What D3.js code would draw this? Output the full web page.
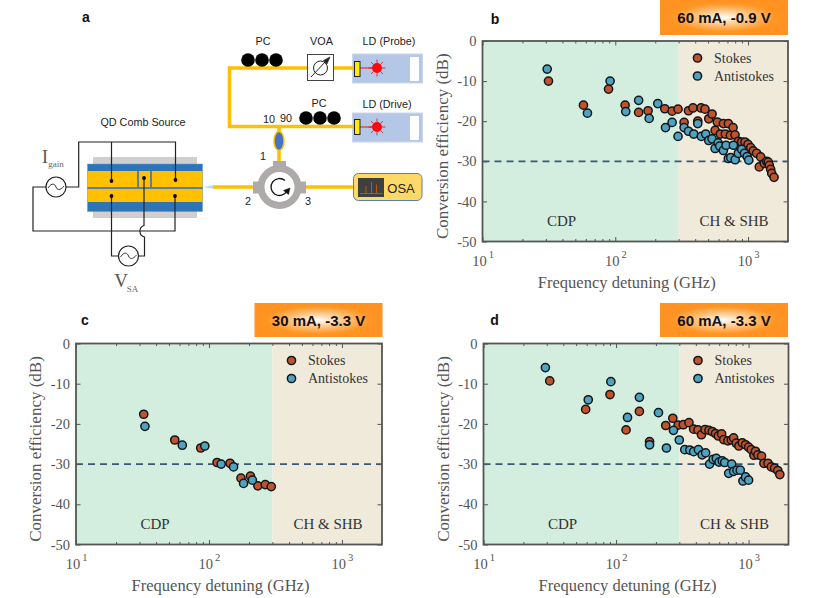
<!DOCTYPE html>
<html><head><meta charset="utf-8">
<script src="https://cdn.jsdelivr.net/npm/d3@7"></script>
<style>html,body{margin:0;padding:0;background:#fff}svg{display:block}</style>
</head><body><svg id="c" width="831" height="598"></svg>
<script>
// ---- data ----
const bStokesF=[31.4,57.6,89,118.6,150,176.6,236,268,297,330,356,385,418,443,474,506,536,565,587,619,652,675,711,736,771,798,845,896,949,1000,1047,1096,1161,1245,1216,1327,1382,1420,1447,1480,1507,1570];
const bStokesD=[-10,-16,-12,-16,-17.8,-17.4,-16.9,-17.5,-17,-20.3,-17.4,-16.7,-20,-16.7,-17,-19.4,-18.2,-22.3,-20.2,-23.2,-20.6,-23.2,-20.6,-23.5,-21.6,-23.4,-25,-25.2,-25.2,-25.8,-26.6,-27.4,-28,-28.9,-31.4,-30.5,-30,-30.2,-31,-32,-33,-34];
const bAntiF=[30.7,61.7,91.4,120,150,180,209,239,268,297,330,356,390,418,445,480,506,536,565,595,612,652,683,711,741,776,800,845,896,940,985,1012];
const bAntiD=[-7,-18,-10,-17.6,-14.8,-19.3,-15.6,-21.6,-20.3,-23.8,-21.6,-22.5,-23.2,-20.6,-23.8,-23.2,-24.8,-24.4,-26.8,-25.4,-26.2,-27.3,-26,-29.3,-29.1,-26,-29.6,-28,-27,-28,-28.8,-29.7];
const cStokesF=[32.3,55.3,86.7,115,144,174,205,233,265,294];
const cStokesD=[-17.6,-24,-26,-29.6,-29.8,-33.5,-33,-35.4,-35.1,-35.6];
const cAntiF=[33,63,93,123.5,153,182,212];
const cAntiD=[-20.6,-25.3,-25.5,-30,-30.7,-34.8,-34];
const dStokesF=[31.6,59,90,119,150,179,237,268,294,322,355,385,415,441,469,502,532,563,591,626,649,698,741,771,807,845,896,949,1000,1047,1096,1127,1175,1253,1305,1400,1483,1570,1660,1720];
const dStokesD=[-9.3,-16.4,-12.7,-21.5,-16.9,-24.4,-20.4,-18.6,-20.3,-20.2,-19.7,-21.3,-21.5,-22.7,-21.4,-21.6,-21.9,-22.4,-23,-22.5,-23.9,-24.2,-24,-23.5,-24.8,-25.5,-24.7,-25.2,-25.8,-26.4,-27.8,-26.8,-27.7,-28,-29.8,-29.8,-30.7,-31,-31.6,-32.6];
const dAntiF=[29.3,61.7,91.4,122,150,179,209,240,271,300,330,360,385,418,446,474,508,540,571,598,633,660,708,745,771,817,865,906,949,1000];
const dAntiD=[-6,-14,-9.5,-18.4,-13.4,-25.2,-17.2,-26,-21.6,-24,-26.4,-26.5,-26.9,-26.4,-27.7,-27.2,-30,-28.8,-28.6,-29.5,-29.2,-29.6,-32.3,-30,-31.8,-31.5,-31.5,-34.2,-33.2,-34];
const yTicks=[0,-10,-20,-30,-40,-50];
const xMajor=[10,100,1000];
const xMinor=[20,30,40,50,60,70,80,90,200,300,400,500,600,700,800,900];
const seriesNames=["Stokes","Antistokes"];
const regionNames=["CDP","CH & SHB"];
const regionBoundary=300, xDomain=[10,2000], yDomain=[-50,0], refLevel=-30;

const RED="#C1532B",BLUE="#4FA3BF",GREY="#555",SERIF="'Liberation Serif',serif",SANS="'Liberation Sans',sans-serif",EDGE="#10161C";
const svg=d3.select("#c");
const defs=svg.append("defs");
const grad=defs.append("radialGradient").attr("id","glow");
grad.append("stop").attr("offset",0).attr("stop-color","#FFFDF8");
grad.append("stop").attr("offset",.45).attr("stop-color","#FFC078");
grad.append("stop").attr("offset",.8).attr("stop-color","#FF9624");
grad.append("stop").attr("offset",1).attr("stop-color","#FF9220");

function txt(g,x,y,s,o={}){
  return g.append("text").attr("x",x).attr("y",y).text(s)
    .attr("font-family",o.f||SANS).attr("font-size",o.s||10).attr("fill",o.c||"#222")
    .attr("font-weight",o.w||"normal").attr("text-anchor",o.a||"middle");
}

function panel(p){
  const g=svg.append("g");
  const {l,r,t,b}=p;
  const x=d3.scaleLog().domain(xDomain).range([l,r]);
  const y=d3.scaleLinear().domain(yDomain).range([b,t]);
  g.append("rect").attr("x",x(10)).attr("y",t).attr("width",x(regionBoundary)-x(10)).attr("height",b-t).attr("fill","#D3EEDE");
  g.append("rect").attr("x",x(regionBoundary)).attr("y",t).attr("width",x(2000)-x(regionBoundary)).attr("height",b-t).attr("fill","#F0EADA");
  g.append("line").attr("x1",l).attr("x2",r).attr("y1",y(refLevel)).attr("y2",y(refLevel))
    .attr("stroke","#3B5870").attr("stroke-width",1.7).attr("stroke-dasharray","7 5");
  txt(g,x(10)+79,b-16,regionNames[0],{f:SERIF,s:15,c:"#333"});
  txt(g,r-54,b-16,regionNames[1],{f:SERIF,s:15,c:"#333"});

  const axes=(ax,tx)=>{const a=g.append("g").attr("transform",`translate(${tx})`).call(ax);a.select(".domain").remove();a.selectAll("line").attr("stroke",GREY).attr("stroke-width",1);return a;};
  const bl=axes(d3.axisBottom(x).tickValues(xMajor).tickSizeInner(-4.5).tickSizeOuter(0).tickFormat(""),`0,${b}`);
  axes(d3.axisBottom(x).tickValues(xMinor).tickSizeInner(-2.5).tickSizeOuter(0).tickFormat(""),`0,${b}`);
  axes(d3.axisTop(x).tickValues(xMajor).tickSizeInner(-4.5).tickSizeOuter(0).tickFormat(""),`0,${t}`);
  axes(d3.axisTop(x).tickValues(xMinor).tickSizeInner(-2.5).tickSizeOuter(0).tickFormat(""),`0,${t}`);
  const ll=axes(d3.axisLeft(y).tickValues(yTicks).tickSizeInner(-4.5).tickSizeOuter(0).tickPadding(6).tickFormat(d=>String(d)),`${l},0`);
  ll.selectAll("text").attr("font-family",SERIF).attr("font-size",14.5).attr("fill",GREY);
  axes(d3.axisRight(y).tickValues(yTicks).tickSizeInner(-4.5).tickSizeOuter(0).tickFormat(""),`${r},0`);
  bl.selectAll(".tick text").each(function(d){
    const el=d3.select(this).attr("font-family",SERIF).attr("font-size",14.5).attr("fill",GREY).attr("y",24).attr("dy",0).attr("dx",0);
    el.append("tspan").text("10");
    el.append("tspan").text(String(Math.round(Math.log10(d)))).attr("font-size",10.5).attr("dy",-8).attr("dx",2);
  });
  g.append("rect").attr("x",l).attr("y",t).attr("width",r-l).attr("height",b-t).attr("fill","none").attr("stroke",GREY).attr("stroke-width",1.8);
  txt(g,(l+r)/2-8.5,b+46,"Frequency detuning (GHz)",{f:SERIF,s:16.5,c:GREY});
  txt(g,0,0,"Conversion efficiency (dB)",{f:SERIF,s:17,c:GREY}).attr("transform",`translate(${l-35},${(t+b)/2+5}) rotate(-90)`);

  const dot=(F,D,c)=>g.append("g").selectAll("circle").data(F).join("circle")
    .attr("cx",d=>x(d)).attr("cy",(d,i)=>y(D[i])).attr("r",4.1)
    .attr("fill",c).attr("stroke",EDGE).attr("stroke-width",1.5);
  dot(p.sF,p.sD,RED); dot(p.aF,p.aD,BLUE);

  // legend
  const lx=r-90.5;
  [[RED,t+17],[BLUE,t+35]].forEach(([c,yy],i)=>{
    g.append("circle").attr("cx",lx).attr("cy",yy).attr("r",4.1).attr("fill",c).attr("stroke",EDGE).attr("stroke-width",1.5);
    txt(g,lx+16.5,yy+4.5,seriesNames[i],{f:SERIF,s:14,c:"#333",a:"start"});
  });
  // banner
  g.append("rect").attr("x",p.bx).attr("y",p.by).attr("width",128).attr("height",p.bh).attr("fill","url(#glow)");
  txt(g,p.bx+64,p.by+p.bh/2+5.5,p.title,{s:15,w:"bold",c:"#111"});
  txt(g,p.lx,p.ly,p.letter,{s:14,w:"bold",c:"#111"});
}

panel({l:482.5,r:788,t:41,b:241.5,sF:bStokesF,sD:bStokesD,aF:bAntiF,aD:bAntiD,bx:660,by:0,bh:35,title:"60 mA, -0.9 V",letter:"b",lx:495,ly:24});
panel({l:76,r:382,t:343.5,b:544.5,sF:cStokesF,sD:cStokesD,aF:cAntiF,aD:cAntiD,bx:254.5,by:303,bh:34,title:"30 mA, -3.3 V",letter:"c",lx:85,ly:325});
panel({l:483.5,r:788.5,t:343.5,b:544.5,sF:dStokesF,sD:dStokesD,aF:dAntiF,aD:dAntiD,bx:660,by:303,bh:34,title:"60 mA, -3.3 V",letter:"d",lx:494.5,ly:325});

// ---- panel a: schematic ----
const a=svg.append("g");
const LBL=10.8;
const rect=(x,y,w,h,fill,o={})=>a.append("rect").attr("x",x).attr("y",y).attr("width",w).attr("height",h).attr("fill",fill).attr("stroke",o.s||"none").attr("stroke-width",o.w||0).attr("rx",o.r||0);
const path=(d,s,w,fill)=>a.append("path").attr("d",d).attr("stroke",s).attr("stroke-width",w).attr("fill",fill||"none");
const circ=(x,y,r,fill,s,w)=>a.append("circle").attr("cx",x).attr("cy",y).attr("r",r).attr("fill",fill).attr("stroke",s||"none").attr("stroke-width",w||0);
txt(a,86,22,"a",{s:14,w:"bold",c:"#111"});

// lasers
[[54,"LD (Probe)",389,45],[113,"LD (Drive)",387,107.5]].forEach(([y0,name,tx,ty])=>{
  rect(352.5,y0,70,29,"#B4C7E7",{s:"#C9D6EE",w:1});
  rect(410,y0+3,9,24,"#fff");
  txt(a,tx,ty,name,{s:LBL});
});
// fibres
const FIB="#FFC000";
path("M355 68H229.5V126.5H355",FIB,3.6);
path("M279 126.5V162",FIB,3.6);
path("M213 187H254M304 187H354",FIB,3.6);
// coupler
a.append("ellipse").attr("cx",279).attr("cy",141).attr("rx",5).attr("ry",9.5).attr("fill","#4472C4").attr("stroke",FIB).attr("stroke-width",1.5);
// polarization controllers
[248,262,276].forEach(x=>circ(x,60,6.8,"#000"));
[306,320,334].forEach(x=>circ(x,118,6.8,"#000"));
// VOA
rect(307.5,54.5,26,26,"#fff",{s:"#444",w:1});
circ(320.5,68,7,"none","#222",1);
path("M311 77L327 60","#222",1);
path("M330 57L323.5 60.5L327 64Z","#222",.6,"#222");
// laser chips
[[61.5,68],[119.5,127]].forEach(([yy,cy])=>{
  path(`M360 ${cy}H377`,"#F01010",1);
  d3.range(8).forEach(i=>{const t=i*Math.PI/4;path(`M${377+5*Math.cos(t)} ${cy+5*Math.sin(t)}L${377+8.5*Math.cos(t)} ${cy+8.5*Math.sin(t)}`,"#F01010",.8);});
  circ(377,cy,5,"#F60A0A");
  rect(354.5,yy,5.5,15,"#FFEB00",{s:"#222",w:1});
});
// circulator
rect(273,161,13,8,"#AEAAAA"); rect(253,181.5,8,12,"#AEAAAA"); rect(298,181.5,8,12,"#AEAAAA");
circ(279.5,187,18.5,"#fff","#AEAAAA",7);
path("M285 180.5A8.5 8.5 0 1 0 287 191","#111",1.3);
path("M290 188L283.5 190.5L288.5 194.5Z","#111",.5,"#111");
txt(a,263,160,"1",{s:LBL}); txt(a,248,205,"2",{s:LBL}); txt(a,308,205,"3",{s:LBL});
txt(a,269,123,"10",{s:LBL}); txt(a,286,122,"90",{s:LBL});
txt(a,263,45,"PC",{s:LBL}); txt(a,321.5,45,"VOA",{s:LBL}); txt(a,319,107,"PC",{s:LBL});
// OSA
rect(353.5,173.5,68.5,27,"#FFD966",{s:"#5B7DB1",w:1,r:5});
rect(358,178,26,19,"#3F3F3F");
path("M360 193.5H382.5","#C55A11",.9);
path("M366 193.5V186M371.5 193.5V182M376.5 193.5V184.5","#C55A11",.9);
txt(a,401,192.5,"OSA",{s:13});
// chip
txt(a,143,126,"QD Comb Source",{s:LBL});
rect(93,157,104,61,"#D0CECE");
rect(87.5,164,115,47.5,"#2E75B6",{s:"#5B9BD5",w:.5});
rect(87.5,171,115,16,FIB); rect(87.5,189,115,13,FIB);
rect(87.5,187,115,2,"#5B7F95");
rect(137,171,2,16,"#5B7F95"); rect(150,171,2,16,"#5B7F95");
path("M203 187L213 185.2V188.8Z","none",0,"#BDD7EE");
// wires
const W="#222";
path("M66 187H78.7V142H175.5V180M111.5 142V181",W,1.2);
path("M46 187H33V231H175V196",W,1.2);
path("M144 178V225.5A6 6 0 0 0 144.5 237V256H138.5M118.5 256H111.5V196",W,1.2);
[[111.5,181],[175.5,180],[144,178],[111.5,196],[175,196]].forEach(([x,y])=>circ(x,y,1.9,"#000"));
[[56,187],[128.5,256]].forEach(([x,y])=>{
  circ(x,y,10,"#fff",W,1.2);
  path(`M${x-8} ${y+1}C${x-4} ${y-5} ${x-1} ${y-3} ${x} ${y}S${x+4} ${y+4} ${x+8} ${y-1}`,W,.9);
});
txt(a,45,162.5,"I",{f:SERIF,s:18,c:GREY});
txt(a,56,166.5,"gain",{f:SERIF,s:9,c:"#666"});
txt(a,121,287,"V",{f:SERIF,s:19,c:GREY});
txt(a,132.5,292,"SA",{f:SERIF,s:9,c:"#666"});
</script></body></html>
